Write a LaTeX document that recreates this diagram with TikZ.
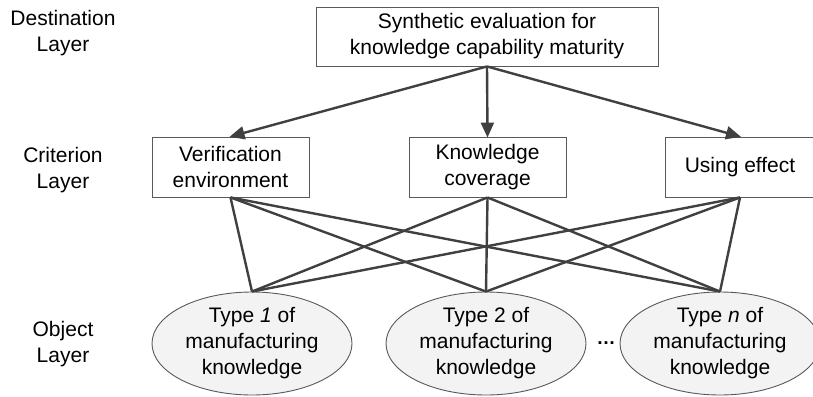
\documentclass[tikz,border=0pt]{standalone}
\usepackage{fontspec}
\setmainfont{Liberation Sans}
\usetikzlibrary{shapes.geometric,arrows.meta}
\definecolor{linecol}{HTML}{404040}
\definecolor{boxcol}{HTML}{595959}
\definecolor{ellfill}{HTML}{F3F3F3}
\begin{document}
\begin{tikzpicture}[x=1pt,y=-1pt,
  every node/.style={font=\fontsize{21}{26}\selectfont, align=center, inner sep=0pt},
  rbox/.style={draw=boxcol, line width=0.9pt, rectangle},
  ell/.style={draw=boxcol, line width=0.9pt, ellipse, fill=ellfill, minimum width=200pt, minimum height=103pt},
  conn/.style={draw=linecol, line width=2.4pt},
  arr/.style={conn, -{Triangle[length=15pt,width=13pt]}, shorten >=-1pt},
  lay/.style={}]
\useasboundingbox (0,0) rectangle (813,396);
% layer labels
\node[lay] (l1) at (63,33) {Destination\\Layer};
\node[lay] (l2) at (63,170) {Criterion\\Layer};
\node[lay] (l3) at (63,344) {Object\\Layer};
% top
\node[rbox, minimum width=342pt, minimum height=59pt] (top) at (487,36.5) {Synthetic evaluation for\\knowledge capability maturity};
% criteria
\node[rbox, minimum width=157pt, minimum height=60pt] (c1) at (230.5,167) {Verification\\environment};
\node[rbox, minimum width=157pt, minimum height=60pt] (c2) at (487.5,167) {Knowledge\\coverage};
\node[rbox, minimum width=150pt, minimum height=60pt] (c3) at (740,167) {Using effect};
% objects
\node[ell] (o1) at (252,343.5) {Type \textit{1} of\\manufacturing\\knowledge};
\node[ell] (o2) at (486,343.5) {Type 2 of\\manufacturing\\knowledge};
\node[ell] (o3) at (720,343.5) {Type \textit{n} of\\manufacturing\\knowledge};
\node[font=\fontsize{19}{22}\selectfont\bfseries] (dots) at (606,343) {…};
% arrows
\draw[arr] (top.south) -- (c1.north);
\draw[arr] (top.south) -- (c2.north);
\draw[arr] (top.south) -- (c3.north);
% connections
\foreach \c in {c1,c2,c3}{
  \foreach \o in {o1,o2,o3}{
    \draw[conn] (\c.south) -- (\o.north);
  }
}
\end{tikzpicture}
\end{document}
